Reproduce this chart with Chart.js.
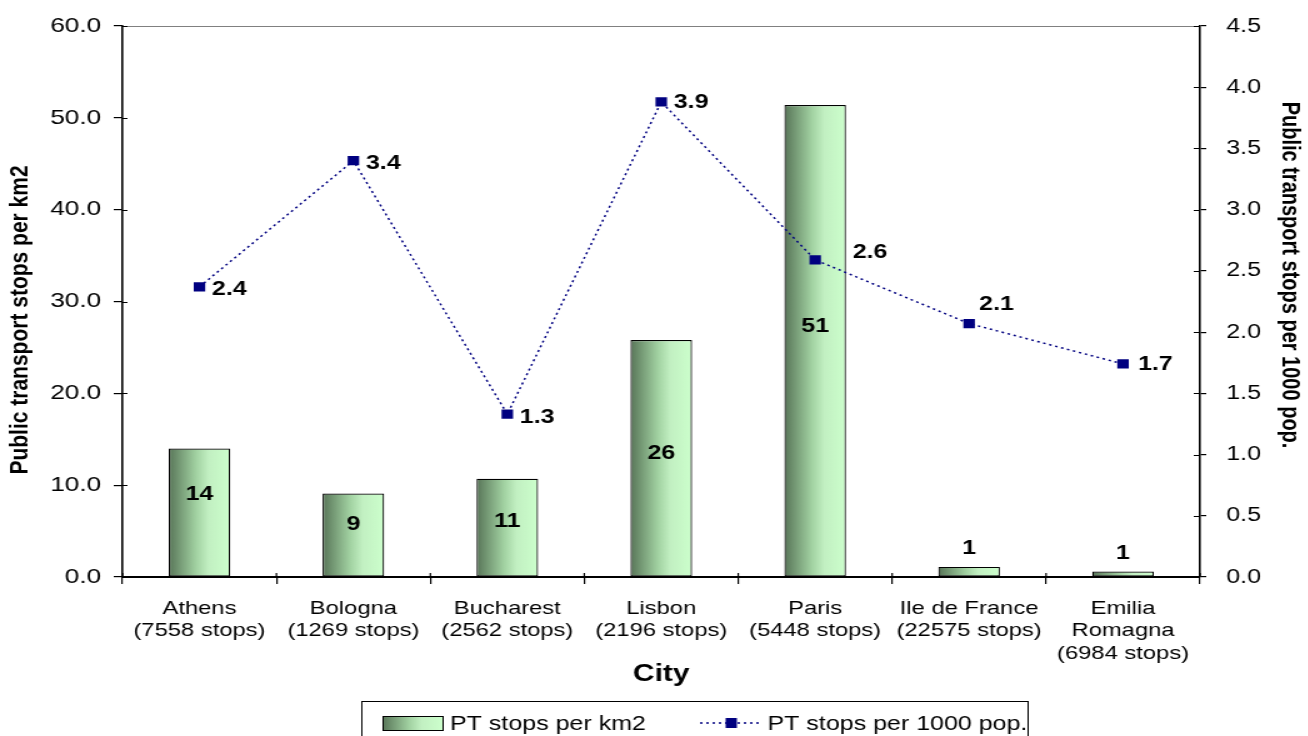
<!DOCTYPE html>
<html><head><meta charset="utf-8">
<script src="https://cdn.jsdelivr.net/npm/chart.js@4"></script>
<style>
html,body{margin:0;padding:0;background:#fff;overflow:hidden;}
#wrap{width:1046px;height:736px;transform:scaleX(1.25);transform-origin:0 0;}
</style></head><body>
<div id="wrap"><canvas id="c" width="1046" height="736"></canvas></div>
<script>
const categories = [
  ["Athens", "(7558 stops)"],
  ["Bologna", "(1269 stops)"],
  ["Bucharest", "(2562 stops)"],
  ["Lisbon", "(2196 stops)"],
  ["Paris", "(5448 stops)"],
  ["Ile de France", "(22575 stops)"],
  ["Emilia", "Romagna", "(6984 stops)"]
];
const seriesNames = ["PT stops per km2", "PT stops per 1000 pop."];
const stopsPerKm2 = [14.0, 9.1, 10.7, 25.8, 51.4, 1.1, 0.6];
const stopsPer1000 = [2.37, 3.40, 1.33, 3.88, 2.59, 2.07, 1.74];
const leftAxisTitle = "Public transport stops per km2";
const rightAxisTitle = "Public transport stops per 1000 pop.";
const xAxisTitle = "City";

const F = "'Liberation Sans', Arial, sans-serif";
const BAR_PCT = 0.4;

function makeGrad(ctx, x0, x1) {
  const g = ctx.createLinearGradient(x0, 0, x1, 0);
  g.addColorStop(0, '#587558');
  g.addColorStop(0.45, '#a2d2a2');
  g.addColorStop(0.65, '#c2f0c2');
  g.addColorStop(1, '#ccffcc');
  return g;
}
function barGradient(c) {
  const chart = c.chart;
  const xs = chart.scales.x;
  if (!xs || c.dataIndex === undefined || !chart.chartArea) return '#a8d8a8';
  const cx = xs.getPixelForValue(c.dataIndex);
  const half = xs.width / categories.length * BAR_PCT / 2;
  return makeGrad(chart.ctx, cx - half, cx + half);
}

const extras = {
  id: 'extras',
  afterDatasetsDraw(chart, args, opts) {
    const ctx = chart.ctx;
    const ca = chart.chartArea;
    const ys = chart.scales.y, y1 = chart.scales.y1;
    ctx.save();
    // top border of plot area
    ctx.strokeStyle = '#808080';
    ctx.lineWidth = 1;
    ctx.beginPath();
    ctx.moveTo(ca.left, ca.top + 0.5);
    ctx.lineTo(ca.right, ca.top + 0.5);
    ctx.stroke();
    // inner halves of tick marks
    ctx.strokeStyle = '#000';
    ctx.lineWidth = 1.2;
    ctx.beginPath();
    ys.ticks.forEach((t, i) => { const p = Math.round(ys.getPixelForTick(i)) + 0.5; ctx.moveTo(ca.left, p); ctx.lineTo(ca.left + 4, p); });
    y1.ticks.forEach((t, i) => { const p = Math.round(y1.getPixelForTick(i)) + 0.5; ctx.moveTo(ca.right - 5, p); ctx.lineTo(ca.right, p); });
    for (let i = 0; i <= categories.length; i++) {
      const p = ca.left + (ca.right - ca.left) * i / categories.length;
      ctx.moveTo(p, ca.bottom - 4); ctx.lineTo(p, ca.bottom);
    }
    ctx.stroke();

    // vertical axis titles
    ctx.fillStyle = '#000';
    ctx.textAlign = 'center';
    ctx.textBaseline = 'middle';
    ctx.save();
    ctx.translate(opts.leftTitle.x, opts.leftTitle.y);
    ctx.rotate(-Math.PI / 2);
    ctx.font = "bold " + opts.leftTitle.size + "px " + F;
    ctx.fillText(leftAxisTitle, 0, 0);
    ctx.restore();
    ctx.save();
    ctx.translate(opts.rightTitle.x, opts.rightTitle.y);
    ctx.rotate(Math.PI / 2);
    ctx.font = "bold " + opts.rightTitle.size + "px " + F;
    ctx.fillText(rightAxisTitle, 0, 0);
    ctx.restore();

    // bar labels
    ctx.font = "bold 20px " + F;
    const barMeta = chart.getDatasetMeta(1);
    barMeta.data.forEach((el, i) => {
      const v = stopsPerKm2[i];
      const h = el.base - el.y;
      let y;
      if (h < 30) y = el.y - opts.smallGap;
      else y = el.y + h * opts.barLabelFrac[i];
      ctx.fillText(Math.round(v).toString(), el.x, y);
    });
    // line labels
    ctx.textAlign = 'left';
    const lineMeta = chart.getDatasetMeta(0);
    lineMeta.data.forEach((el, i) => {
      const o = opts.lineLabelOffsets[i];
      ctx.fillText(stopsPer1000[i].toFixed(1), el.x + o[0], el.y + o[1]);
    });

    // legend
    const L = opts.legend;
    ctx.strokeStyle = '#000';
    ctx.lineWidth = 1;
    ctx.strokeRect(L.x0 + 0.5, L.y0 + 0.5, L.x1 - L.x0, 60);
    ctx.fillStyle = makeGrad(ctx, L.swX, L.swX + L.swW);
    ctx.fillRect(L.swX, L.cy - 7, L.swW, 14);
    ctx.strokeRect(L.swX + 0.5, L.cy - 7 + 0.5, L.swW, 14);
    ctx.fillStyle = '#000';
    ctx.font = L.size + "px " + F;
    ctx.textBaseline = 'middle';
    ctx.textAlign = 'left';
    ctx.fillText(seriesNames[0], L.t1X, L.cy + 1);
    ctx.strokeStyle = '#000080';
    ctx.lineWidth = 1.5;
    ctx.setLineDash([2, 3]);
    ctx.beginPath();
    ctx.moveTo(L.lnX0, L.cy); ctx.lineTo(L.lnX1, L.cy);
    ctx.stroke();
    ctx.setLineDash([]);
    ctx.fillStyle = '#000080';
    const mx = (L.lnX0 + L.lnX1) / 2;
    ctx.fillRect(mx - 4.5, L.cy - 5, 9, 10);
    ctx.fillStyle = '#000';
    ctx.fillText(seriesNames[1], L.t2X, L.cy + 1);
    ctx.restore();
  }
};

new Chart(document.getElementById('c'), {
  data: {
    labels: categories,
    datasets: [
      {
        type: 'line', label: seriesNames[1], data: stopsPer1000, yAxisID: 'y1', order: 0,
        borderColor: '#000080', borderWidth: 1.5, borderDash: [2, 3], fill: false, tension: 0,
        pointStyle: 'rect', pointRadius: 6.5, pointHoverRadius: 6.5,
        pointBackgroundColor: '#000080', pointBorderColor: '#000080', pointBorderWidth: 0
      },
      {
        type: 'bar', label: seriesNames[0], data: stopsPerKm2, yAxisID: 'y', order: 1,
        backgroundColor: barGradient, borderColor: '#000', borderWidth: 1.2, borderSkipped: false,
        barPercentage: BAR_PCT, categoryPercentage: 1.0
      }
    ]
  },
  options: {
    responsive: false,
    animation: false,
    devicePixelRatio: 1,
    layout: { padding: { top: 24, left: 0, right: 0, bottom: 0 } },
    plugins: {
      legend: { display: false },
      tooltip: { enabled: false },
      extras: {
        barLabelFrac: [0.36, 0.37, 0.44, 0.48, 0.47, 0.5, 0.5],
        smallGap: 18,
        lineLabelOffsets: [[10, 3], [10, 3], [10, 3], [10, 1], [30, -7], [8, -19], [12, 1]],
        leftTitle: { x: 16, y: 320, size: 21 },
        rightTitle: { x: 1032, y: 275, size: 20 },
        legend: { x0: 289, x1: 822, y0: 701, cy: 723, swX: 306, swW: 48, t1X: 360, lnX0: 560, lnX1: 610, t2X: 614, size: 20 }
      }
    },
    scales: {
      x: {
        offset: true,
        grid: { display: true, drawOnChartArea: false, drawTicks: true, tickLength: 7, color: '#000', lineWidth: 1.2, offset: true },
        border: { display: true, color: '#000', width: 2 },
        ticks: { color: '#000', font: { family: F, size: 19 }, maxRotation: 0, minRotation: 0, autoSkip: false, padding: 13 },
        title: { display: true, text: xAxisTitle, color: '#000', font: { family: F, size: 24, weight: 'bold' }, padding: { top: 0, bottom: 47 } },
        afterFit(s) { s.height = 159; }
      },
      y: {
        position: 'left', min: 0, max: 60,
        grid: { display: true, drawOnChartArea: false, drawTicks: true, tickLength: 7, color: '#000', lineWidth: 1.2 },
        border: { display: true, color: '#000', width: 1.6 },
        ticks: { stepSize: 10, color: '#000', font: { family: F, size: 21, lineHeight: 1 }, padding: 10, callback: v => Number(v).toFixed(1) },
        afterFit(s) { s.width = 98; }
      },
      y1: {
        position: 'right', min: 0, max: 4.5,
        grid: { display: true, drawOnChartArea: false, drawTicks: true, tickLength: 5, color: '#000', lineWidth: 1.2 },
        border: { display: true, color: '#000', width: 1.6 },
        ticks: { stepSize: 0.5, color: '#000', font: { family: F, size: 20, lineHeight: 1 }, padding: 16, callback: v => Number(v).toFixed(1) },
        afterFit(s) { s.width = 86; }
      }
    }
  },
  plugins: [extras]
});
</script>
</body></html>
